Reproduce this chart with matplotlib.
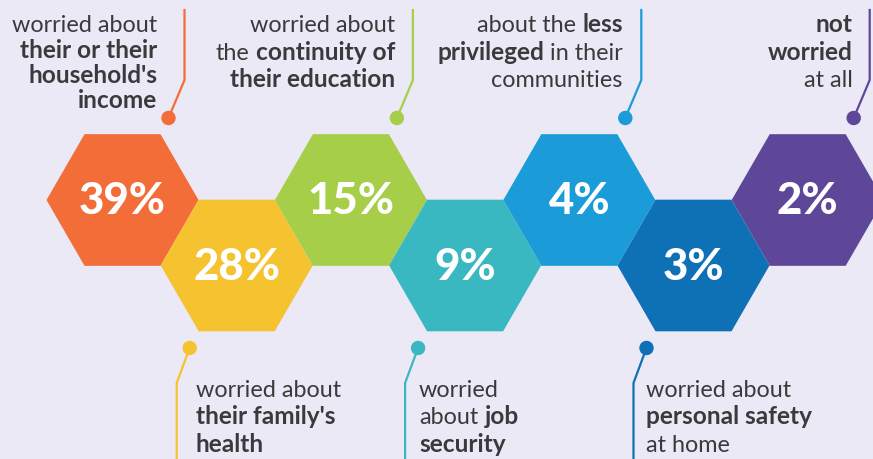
import numpy as np
import matplotlib.pyplot as plt
from matplotlib.patches import RegularPolygon, Circle

# values shown in the hexagons
values = [39, 28, 15, 9, 4, 3, 2]
colors = ["#F26D38", "#F5C330", "#A6CE48", "#3AB8C1", "#1B9CD8", "#0E70B5", "#5E4699"]

# label lines: list of lines, each line a list of (text, bold)
labels = [
    [[("worried about", 0)], [("their or their", 1)], [("household's", 1)], [("income", 1)]],
    [[("worried about", 0)], [("their family's", 1)], [("health", 1)]],
    [[("worried about", 0)], [("the", 0), ("continuity of", 1)], [("their education", 1)]],
    [[("worried", 0)], [("about", 0), ("job", 1)], [("security", 1)]],
    [[("about the", 0), ("less", 1)], [("privileged", 1), ("in their", 0)], [("communities", 0)]],
    [[("worried about", 0)], [("personal safety", 1)], [("at home", 0)]],
    [[("not", 1)], [("worried", 1)], [("at all", 0)]],
]
# horizontal offset of each label's aligned edge from its hexagon centre
label_dx = [34.5, -41, 44, -46, 43.5, -47.5, 45]

BG = "#EBE9F5"
TXT = "#3A3A3C"
FONT = "Lato"
FS = 16.8
FS_B = 17.6

W, H = 873, 459
R = 76            # hexagon radius in pixels
X0, DX = 122.5, 114.2
Y_UP, Y_DN = 200, 265.5

fig = plt.figure(figsize=(W / 100, H / 100), dpi=100, facecolor=BG)
ax = fig.add_axes([0, 0, 1, 1])
ax.set_xlim(0, W)
ax.set_ylim(H, 0)
ax.set_facecolor(BG)
ax.axis("off")
renderer = fig.canvas.get_renderer()


def style(bold):
    return dict(fontsize=FS_B if bold else FS, family=FONT,
                fontweight="bold" if bold else "normal")


def text_width(s, bold):
    t = ax.text(0, 0, s, **style(bold))
    w = t.get_window_extent(renderer).width
    t.remove()
    return w


SPACE = text_width("a a", 0) - text_width("aa", 0)


def rich_line(x, y, segs, align):
    widths = [text_width(s, b) for s, b in segs]
    total = sum(widths) + SPACE * (len(segs) - 1)
    cx = x - total if align == "right" else x
    for (s, b), w in zip(segs, widths):
        ax.text(cx, y, s, color=TXT, ha="left", va="baseline", **style(b))
        cx += w + SPACE


for i, (v, c, lab) in enumerate(zip(values, colors, labels)):
    cx = X0 + i * DX
    up = i % 2 == 0
    cy = Y_UP if up else Y_DN
    ax.add_patch(RegularPolygon((cx, cy), 6, radius=R, orientation=np.pi / 6,
                                facecolor=c, edgecolor="none", zorder=2))
    ax.text(cx, cy + 1, f"{v}%", color="white", fontsize=31.5, family=FONT,
            fontweight="black", ha="center", va="center", zorder=3)
    if up:
        dot = (cx + 46, 118)
        bend = (cx + 62, 80)
        ax.plot([dot[0], bend[0], bend[0]], [dot[1], bend[1], 10], color=c, lw=1.6, zorder=1)
        ax.add_patch(Circle(dot, 6.5, color=c, zorder=2))
        step = 25.5 if i == 0 else 27.5
        for k, line in enumerate(lab):
            rich_line(cx + label_dx[i], 32 + k * step, line, "right")
    else:
        dot = (cx - 47, 348)
        bend = (cx - 60, 383)
        ax.plot([dot[0], bend[0], bend[0]], [dot[1], bend[1], H], color=c, lw=1.6, zorder=1)
        ax.add_patch(Circle(dot, 6.5, color=c, zorder=2))
        for k, line in enumerate(lab):
            rich_line(cx + label_dx[i], 397 + k * 27.5, line, "left")

fig.savefig("out.png", dpi=100, facecolor=BG)
